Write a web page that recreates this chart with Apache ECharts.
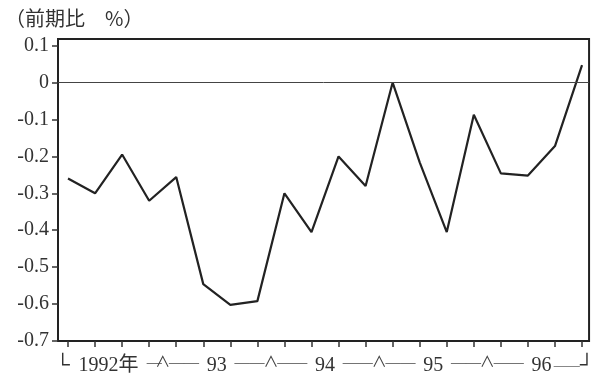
<!DOCTYPE html>
<html>
<head>
<meta charset="utf-8">
<script src="https://cdn.jsdelivr.net/npm/echarts@6/dist/echarts.min.js"></script>
<style>
html,body{margin:0;padding:0;background:#fff;}
#c{width:597px;height:376px;}
</style>
</head>
<body>
<div id="c"></div>
<script>
// Quarterly, 1992 Q1 .. 1996 Q4
const quarters = ['92Q1','92Q2','92Q3','92Q4','93Q1','93Q2','93Q3','93Q4','94Q1','94Q2','94Q3','94Q4','95Q1','95Q2','95Q3','95Q4','96Q1','96Q2','96Q3','96Q4'];
const values = [-0.26, -0.30, -0.195, -0.32, -0.256, -0.546, -0.602, -0.592, -0.30, -0.405, -0.20, -0.28, 0.00, -0.216, -0.405, -0.087, -0.246, -0.252, -0.172, 0.047];
const yTicks = [-0.7, -0.6, -0.5, -0.4, -0.3, -0.2, -0.1, 0, 0.1];
const yearLabels = ['1992年', '93', '94', '95', '96'];
const yTitle = '（前期比　%）';

// x-axis label decorations (year brackets)
const xLabelMap = {};
xLabelMap['-0.2'] = '└';
yearLabels.forEach((y, k) => {
  const c = 1.5 + 4 * k;
  xLabelMap[String(c)] = y;
  if (k > 0) xLabelMap[String(+(c - 1.21).toFixed(2))] = '{d|——}';
  if (k < yearLabels.length - 1) {
    xLabelMap[String(+(c + 1.21).toFixed(2))] = '{d|——}';
    xLabelMap[String(c + 2)] = '{c|∧}';
  }
});
delete xLabelMap[String(+(1.5 + 1.21).toFixed(2))];
xLabelMap['3.19'] = '{d|—}';
xLabelMap['18.7'] = '{e|——}┘';
const xLabelValues = Object.keys(xLabelMap).map(Number).sort((a, b) => a - b);

const chart = echarts.init(document.getElementById('c'));
const serif = '"Liberation Serif", "Noto Sans CJK JP", serif';
chart.setOption({
  backgroundColor: '#fff',
  animation: false,
  title: {
    text: yTitle,
    left: 0,
    top: 3,
    textStyle: { fontFamily: '"Noto Sans CJK JP"', fontSize: 20, fontWeight: 'normal', color: '#333' }
  },
  grid: {
    left: 58, right: 4, top: 39, bottom: 33,
    show: true, borderColor: '#222', borderWidth: 2, backgroundColor: 'transparent'
  },
  xAxis: {
    type: 'value',
    min: -0.37, max: 19.26,
    axisLine: { show: true, onZero: false, lineStyle: { color: '#222', width: 2 } },
    axisTick: { show: true, customValues: quarters.map((q, i) => i), length: 6, lineStyle: { color: '#333', width: 1.5 } },
    axisLabel: {
      show: true,
      customValues: xLabelValues,
      showMinLabel: true,
      showMaxLabel: true,
      hideOverlap: false,
      margin: 15,
      fontFamily: serif,
      fontSize: 20,
      color: '#333',
      rich: {
        d: { fontFamily: serif, fontSize: 15, color: '#444' },
        e: { fontFamily: serif, fontSize: 13, color: '#444' },
        c: { fontFamily: serif, fontSize: 15, color: '#444' }
      },
      formatter: v => {
        for (const k in xLabelMap) { if (Math.abs(+k - v) < 1e-6) return xLabelMap[k]; }
        return '';
      }
    },
    splitLine: { show: false }
  },
  yAxis: {
    type: 'value',
    min: -0.7, max: 0.118,
    axisLine: { show: true, onZero: false, lineStyle: { color: '#222', width: 2 } },
    axisTick: { show: true, customValues: yTicks, length: 6, lineStyle: { color: '#333', width: 1.5 } },
    axisLabel: {
      customValues: yTicks,
      showMinLabel: true,
      showMaxLabel: true,
      margin: 9,
      fontFamily: serif,
      fontSize: 20,
      color: '#333',
      formatter: v => (Math.abs(v) < 1e-9 ? '0' : v.toFixed(1))
    },
    splitLine: { show: false }
  },
  series: [{
    type: 'line',
    data: values.map((v, i) => [i, v]),
    symbol: 'none',
    lineStyle: { color: '#222', width: 2.2 },
    markLine: {
      silent: true,
      symbol: 'none',
      label: { show: false },
      lineStyle: { color: '#444', width: 1, type: 'solid' },
      data: [{ yAxis: 0 }]
    }
  }]
});
</script>
</body>
</html>
